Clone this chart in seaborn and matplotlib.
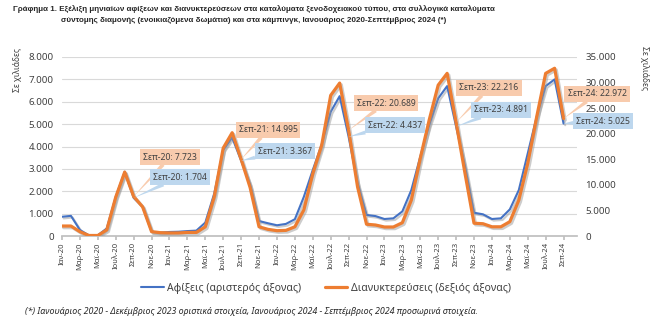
import numpy as np
import pandas as pd
import matplotlib
matplotlib.use("Agg")
import matplotlib.pyplot as plt
import matplotlib.patheffects as pe
from matplotlib.ticker import FuncFormatter, MultipleLocator
import seaborn as sns

# ---- data (thousands) ----
month_names = ["Ιαν", "Φεβ", "Μαρ", "Απρ", "Μαϊ", "Ιουν", "Ιουλ", "Αυγ", "Σεπ", "Οκτ", "Νοε", "Δεκ"]
years = ["20", "21", "22", "23", "24"]
arrivals = [860, 900, 270, 30, 30, 340, 1750, 2870, 1704, 1310, 190, 150,
            180, 190, 220, 240, 600, 1900, 3840, 4400, 3367, 2300, 670, 570,
            480, 540, 750, 1750, 2950, 4100, 5550, 6250, 4437, 2370, 940, 890,
            760, 790, 1100, 2050, 3540, 4960, 6150, 6700, 4891, 3100, 1040, 970,
            760, 790, 1190, 2050, 3690, 5330, 6700, 7000, 5025]
nights = [1950, 1950, 840, 100, 100, 1200, 7600, 12500, 7723, 5700, 850, 650,
          600, 600, 700, 700, 1800, 7700, 17200, 20200, 14995, 9500, 1800, 1300,
          1040, 1100, 1800, 5100, 12200, 17800, 27500, 29900, 20689, 9600, 2300, 2150,
          1760, 1760, 2600, 7000, 15200, 22700, 29500, 31800, 22216, 12200, 2500, 2400,
          1800, 1800, 2800, 7000, 14200, 23300, 31800, 32800, 22972]
labels = [f"{m}-{y}" for y in years for m in month_names][:len(arrivals)]
callout_idx = [8, 20, 32, 44, 56]

title = ("Γράφημα 1. Εξέλιξη μηνιαίων αφίξεων και διανυκτερεύσεων στα καταλύματα ξενοδοχειακού τύπου, στα συλλογικά καταλύματα\n"
         "σύντομης διαμονής (ενοικιαζόμενα δωμάτια) και στα κάμπινγκ, Ιανουάριος 2020-Σεπτέμβριος 2024 (*)")
footnote = ("(*) Ιανουάριος 2020 - Δεκέμβριος 2023 οριστικά στοιχεία, Ιανουάριος 2024 - Σεπτέμβριος 2024 προσωρινά στοιχεία.")
name_arr = "Αφίξεις (αριστερός άξονας)"
name_nig = "Διανυκτερεύσεις (δεξιός άξονας)"
ylabel = "Σε χιλιάδες"

df = pd.DataFrame({"idx": np.arange(len(arrivals)), "arr": arrivals, "nig": nights, "lab": labels})

sns.set_theme(style="white")
plt.rcParams["font.family"] = ["Noto Sans", "DejaVu Sans"]

BLUE = "#4472C4"
ORANGE = "#ED7D31"
TXT = "#404040"

fig = plt.figure(figsize=(6.68, 3.24), dpi=100)
W, H = 668, 324
ax = fig.add_axes([62 / W, 1 - 236 / H, (577 - 62) / W, (236 - 57) / H])
ax2 = ax.twinx()

shadow = [pe.SimpleLineShadow(offset=(1.2, -1.2), shadow_color="#9a9a9a", alpha=0.5), pe.Normal()]
sns.lineplot(data=df, x="idx", y="arr", ax=ax, color=BLUE, linewidth=1.5, zorder=3)
sns.lineplot(data=df, x="idx", y="nig", ax=ax2, color=ORANGE, linewidth=2.3, zorder=3)
for l in ax.lines:
    l.set_path_effects(shadow)
for l in ax2.lines:
    l.set_path_effects(shadow)

ax.set_xlim(0, 57.5)
ax.set_ylim(0, 8000)
ax2.set_ylim(0, 35000)
ax.yaxis.set_major_locator(MultipleLocator(1000))
ax2.yaxis.set_major_locator(MultipleLocator(5000))
fmt = FuncFormatter(lambda v, p: f"{int(v):,}".replace(",", "."))
ax.yaxis.set_major_formatter(fmt)
ax2.yaxis.set_major_formatter(fmt)
ax.grid(axis="y", color="#D9D9D9", linewidth=0.8)
ax.set_axisbelow(True)
ax.set_xticks(df["idx"][::2])
ax.set_xticklabels(df["lab"][::2], rotation=90, fontsize=5.5, color=TXT)
ax.tick_params(axis="x", length=3, color="#BFBFBF", pad=1.5, bottom=True)
ax.tick_params(axis="y", length=0, labelsize=7, labelcolor=TXT, pad=6)
ax2.tick_params(axis="y", length=0, labelsize=7, labelcolor=TXT, pad=6)
for a in (ax, ax2):
    for s in a.spines.values():
        s.set_visible(False)
ax.spines["bottom"].set_visible(True)
ax.spines["bottom"].set_color("#BFBFBF")
ax.set_xlabel("")
ax.set_ylabel("")
ax2.set_ylabel("")

fig.text(18 / W, 1 - 70 / H, ylabel, rotation=90, ha="center", va="center", fontsize=6, color=TXT)
fig.text(645 / W, 1 - 68 / H, ylabel, rotation=-90, ha="center", va="center", fontsize=6, color=TXT)

# callouts
o_pos = [(170, 157), (268, 130), (386, 103), (489, 88), (597, 94)]
b_pos = [(180, 177), (285, 151), (395, 125), (501, 110), (603, 121)]
for k, i in enumerate(callout_idx):
    ox, oy = o_pos[k]
    bx, by = b_pos[k]
    ax2.annotate(f"{labels[i]}: {fmt(nights[i], None)}", xy=(i, nights[i]),
                 xytext=(ox, H - oy), textcoords="figure pixels", ha="center", va="center",
                 fontsize=6.2, color=TXT, zorder=6,
                 bbox=dict(boxstyle="square,pad=0.35", fc="#F8CBAD", ec="none"),
                 arrowprops=dict(arrowstyle="wedge,tail_width=0.45,shrink_factor=0.5", fc="#F8CBAD", ec="none",
                                 shrinkA=0, shrinkB=0))
    ax2.annotate(f"{labels[i]}: {fmt(arrivals[i], None)}", xy=(i, arrivals[i] * 35000 / 8000),
                 xytext=(bx, H - by), textcoords="figure pixels", ha="center", va="center",
                 fontsize=6.2, color=TXT, zorder=6,
                 bbox=dict(boxstyle="square,pad=0.35", fc="#BDD7EE", ec="none"),
                 arrowprops=dict(arrowstyle="wedge,tail_width=0.45,shrink_factor=0.5", fc="#BDD7EE", ec="none",
                                 shrinkA=0, shrinkB=0))

fig.text(254 / W, 1 - 15 / H, title, ha="center", va="center", fontsize=5.8, fontweight="bold",
         color="#262626", linespacing=1.8, family=["Liberation Sans Narrow", "Liberation Sans", "DejaVu Sans"])

handles = [plt.Line2D([], [], color=BLUE, lw=1.5), plt.Line2D([], [], color=ORANGE, lw=2.3)]
fig.legend(handles, [name_arr, name_nig], loc="center", bbox_to_anchor=(326 / W, 1 - 288 / H),
           ncol=2, frameon=False, fontsize=7.5, handlelength=2.2, columnspacing=2.2, handletextpad=0.3,
           labelcolor=TXT)

fig.text(25 / W, 1 - 311 / H, footnote, ha="left", va="center", fontsize=6.4, style="italic", color="#262626")

fig.savefig("out.png", dpi=100)
